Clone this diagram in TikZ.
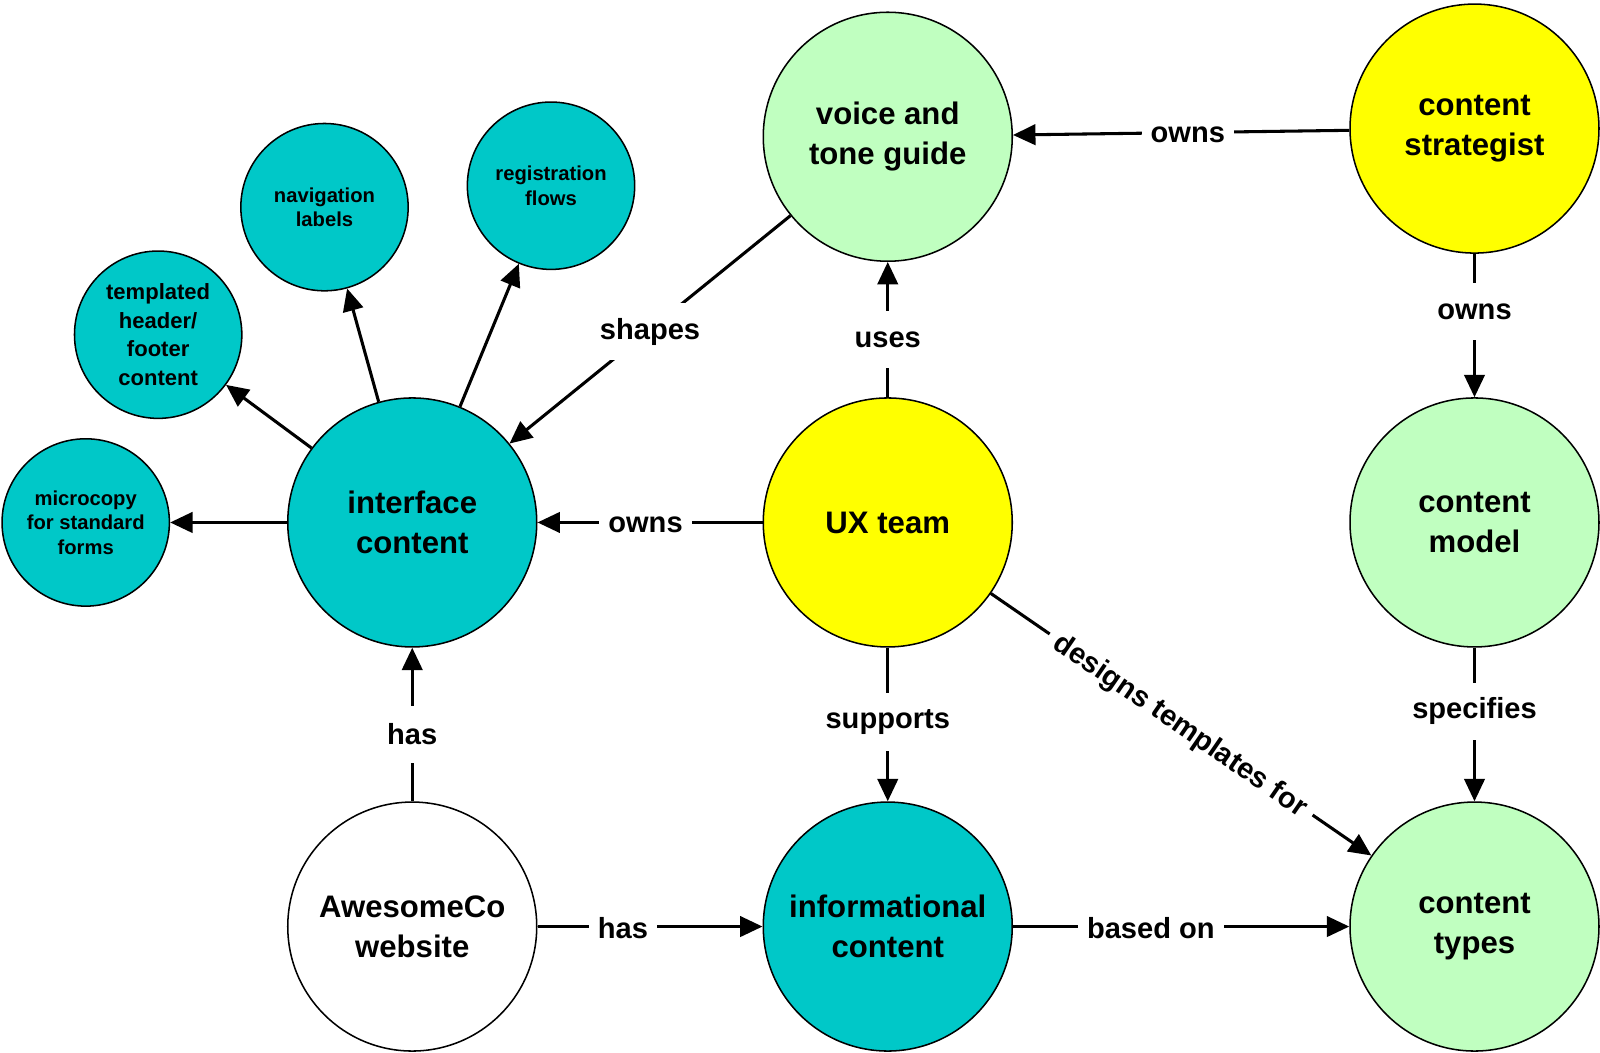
\documentclass[tikz,border=0pt]{standalone}
\usepackage{fontspec}
\setmainfont{Liberation Sans}
\usetikzlibrary{arrows.meta}
\definecolor{tealc}{RGB}{0,200,200}
\definecolor{lgreen}{RGB}{192,255,192}
\definecolor{yel}{RGB}{255,255,0}
\begin{document}
\begin{tikzpicture}[x=1pt,y=-1pt,
 big/.style={circle,draw,line width=1.5pt,minimum size=244pt,inner sep=0pt,align=center,font=\fontsize{30.5}{39}\selectfont\bfseries},
 small/.style={circle,draw,line width=1.5pt,minimum size=164pt,inner sep=0pt,align=center,fill=tealc,font=\fontsize{19.8}{24}\selectfont\bfseries},
 conn/.style={line width=3pt,-{Triangle[length=22pt,width=20pt]}},
 lab/.style={fill=white,font=\fontsize{28.5}{34}\selectfont\bfseries,inner xsep=9pt,inner ysep=0pt,minimum height=56pt,yshift=-2pt}]
\useasboundingbox (0,0) rectangle (1568,1031);
% big nodes
\node[big,fill=lgreen] (voice) at (870,134) {voice and\\tone guide};
\node[big,fill=yel] (cs) at (1445,126) {content\\strategist};
\node[big,fill=tealc] (ic) at (404,512) {interface\\content};
\node[big,fill=yel] (ux) at (870,512) {UX team};
\node[big,fill=lgreen] (cm) at (1445,512) {content\\model};
\node[big,fill=white] (aw) at (404,908) {AwesomeCo\\website};
\node[big,fill=tealc] (inf) at (870,908) {informational\\content};
\node[big,fill=lgreen] (ct) at (1445,908) {content\\types};
% small nodes
\node[small] (nav) at (318,203) {navigation\\labels};
\node[small] (reg) at (540,182) {registration\\flows};
\node[small,font=\fontsize{21.6}{28}\selectfont\bfseries] (tpl) at (155,328) {templated\\header/\\footer\\content};
\node[small] (mic) at (84,512) {microcopy\\for standard\\forms};
% connectors
\draw[conn] (cs) -- node[lab,pos=0.48]{owns} (voice);
\draw[conn] (cs) -- node[lab,pos=0.39]{owns} (cm);
\draw[conn] (cm) -- node[lab,pos=0.40]{specifies} (ct);
\draw[conn] (ux) -- node[lab,pos=0.44]{uses} (voice);
\draw[conn] (ux) -- node[lab,pos=0.52]{owns} (ic);
\draw[conn] (ux) -- node[lab,pos=0.47]{supports} (inf);
\draw[conn] (ux) -- node[lab,pos=0.5,sloped]{designs templates for} (ct);
\draw[conn] (voice) -- node[lab,pos=0.5]{shapes} (ic);
\draw[conn] (aw) -- node[lab,pos=0.45]{has} (ic);
\draw[conn] (aw) -- node[lab,pos=0.38]{has} (inf);
\draw[conn] (inf) -- node[lab,pos=0.41]{based on} (ct);
\draw[conn] (ic) -- (mic);
\draw[conn] (ic) -- (tpl);
\draw[conn] (ic) -- (nav);
\draw[conn] (ic) -- (reg);
\end{tikzpicture}
\end{document}
